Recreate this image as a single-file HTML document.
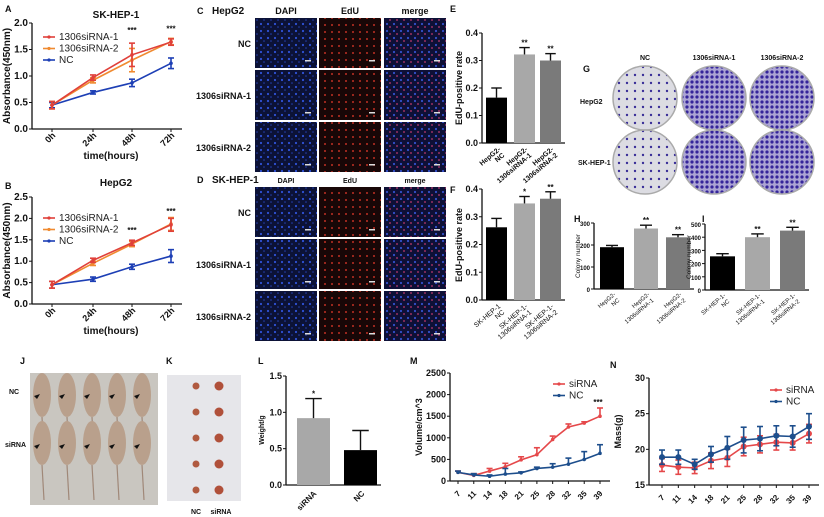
<!DOCTYPE html>
<html><head><meta charset="utf-8"><style>
body{margin:0;background:#fff}
svg{display:block;font-family:"Liberation Sans",Arial,sans-serif}
</style></head><body>
<svg id="s" width="824" height="517" viewBox="0 0 824 517">
<defs>
<pattern id="blueDots" width="7" height="7" patternUnits="userSpaceOnUse"><rect width="7" height="7" fill="#0c1236"/><circle cx="2" cy="3" r="1.1" fill="#2f52d8"/><circle cx="5" cy="6" r="0.8" fill="#2440b0"/></pattern>
<pattern id="redDots" width="7" height="7" patternUnits="userSpaceOnUse"><rect width="7" height="7" fill="#180707"/><circle cx="3" cy="4" r="1" fill="#c03024"/></pattern>
<pattern id="mergeDots" width="7" height="7" patternUnits="userSpaceOnUse"><rect width="7" height="7" fill="#0e1036"/><circle cx="2" cy="3" r="1.1" fill="#3450cc"/><circle cx="5" cy="6" r="0.9" fill="#c03870"/></pattern>
<pattern id="plateSparse" width="8" height="8" patternUnits="userSpaceOnUse"><rect width="8" height="8" fill="#dcdce2"/><circle cx="3" cy="3" r="1.2" fill="#3a2e98"/></pattern>
<pattern id="plateDense" width="5" height="5" patternUnits="userSpaceOnUse"><rect width="5" height="5" fill="#aca4d4"/><circle cx="2" cy="2" r="1.6" fill="#35259a"/></pattern>
</defs>
</svg>
<script>
const NS="http://www.w3.org/2000/svg", S=document.getElementById('s');
function el(t,a,p){const e=document.createElementNS(NS,t);for(const k in a)e.setAttribute(k,a[k]);(p||S).appendChild(e);return e;}
function tx(x,y,s,o){o=o||{};const e=el('text',{x:x,y:y,'font-size':o.fs||9,'text-anchor':o.a||'start','font-weight':o.w||'bold',fill:o.c||'#111'});if(o.r)e.setAttribute('transform','rotate('+o.r+' '+x+' '+y+')');e.textContent=s;return e;}

// ---- data ----
const timeCats=['0h','24h','48h','72h'];
const aSi1=[0.45,0.97,1.40,1.64], aSi2=[0.45,0.92,1.30,1.65], aNC=[0.45,0.69,0.87,1.24];
const aSi1Err=[0.07,0.05,0.22,0.06], aNCErr=[0.05,0.03,0.07,0.1];
const bSi1=[0.45,1.02,1.43,1.85], bSi2=[0.45,0.95,1.40,1.87], bNC=[0.45,0.58,0.87,1.12];
const bErr=[0.08,0.05,0.06,0.15];
const eVals=[0.165,0.322,0.300], eErr=[0.035,0.025,0.025];
const fVals=[0.262,0.348,0.365], fErr=[0.032,0.025,0.025];
const hVals=[190,275,235], hErr=[8,15,12];
const iVals=[255,400,450], iErr=[20,25,25];
const lCats=['siRNA','NC'], lVals=[0.92,0.48], lErr=[0.27,0.27];
const days=['7','11','14','18','21','25','28','32','35','39'];
const mSi=[200,130,230,330,490,610,960,1250,1340,1500], mSiErr=[30,40,60,80,70,160,80,70,30,190];
const mNC=[200,140,110,160,190,290,320,390,500,640], mNCErr=[30,30,30,130,20,30,80,140,180,200];
const nSi=[17.8,17.5,17.4,18.4,18.8,20.4,20.7,21.0,20.9,22.2], nSiErr=[0.9,1,0.8,1.1,1.2,1.3,1.2,1.1,1.0,1.3];
const nNC=[18.9,18.9,17.9,19.3,20.2,21.3,21.5,21.9,21.8,23.2], nNCErr=[1,1,0.7,1.1,1.6,1.8,1.7,1.4,1.5,1.8];

function yAxis(x,y0,y1,vmin,vmax,ticks,fs,fmt){
  const g=el('g',{});
  
  el('line',{x1:x,y1:y0,x2:x,y2:y1,stroke:'#111','stroke-width':1.3},g);
  ticks.forEach(t=>{const y=y0-(t-vmin)/(vmax-vmin)*(y0-y1);el('line',{x1:x-3,y1:y,x2:x,y2:y,stroke:'#111'},g);
    const e=tx(x-4,y+3,fmt?fmt(t):String(t),{fs:fs||9,a:'end'});g.appendChild(e);});
  return v=>y0-(v-vmin)/(vmax-vmin)*(y0-y1);
}
function errBar(x,y,yt,c,w){el('line',{x1:x,y1:y,x2:x,y2:yt,stroke:c,'stroke-width':1.4});el('line',{x1:x-w,y1:yt,x2:x+w,y2:yt,stroke:c,'stroke-width':1.4});}
function series(xs,vals,errs,sy,c,name,mk,both){
  const g=el('g',{});
  el('polyline',{points:vals.map((v,i)=>xs[i]+','+sy(v)).join(' '),fill:'none',stroke:c,'stroke-width':1.6},g);
  vals.forEach((v,i)=>{
    if(errs){const e=errs[i];el('line',{x1:xs[i],y1:sy(both?v-e:v),x2:xs[i],y2:sy(v+e),stroke:c,'stroke-width':1.6},g);el('line',{x1:xs[i]-3,y1:sy(v+e),x2:xs[i]+3,y2:sy(v+e),stroke:c,'stroke-width':1.6},g);if(both)el('line',{x1:xs[i]-3,y1:sy(v-e),x2:xs[i]+3,y2:sy(v-e),stroke:c,'stroke-width':1.6},g);}
    el(mk=='sq'?'rect':'circle',mk=='sq'?{x:xs[i]-3,y:sy(v)-3,width:6,height:6,fill:c}:{cx:xs[i],cy:sy(v),r:mk||1.8,fill:c},g);
  });
}
function legend(x,y,items,fs){items.forEach((it,i)=>{const g=el('g',{});
  el('line',{x1:x,y1:y+i*fs*1.15-3,x2:x+12,y2:y+i*fs*1.15-3,stroke:it[1],'stroke-width':1.6},g);el('circle',{cx:x+6,cy:y+i*fs*1.15-3,r:1.6,fill:it[1]},g);
  g.appendChild(tx(x+16,y+i*fs*1.15,it[0],{fs:fs,w:'normal',c:'#222'}));});}

// ---- A & B line charts ----
function lineChart(lbl,title,y0,y1,vmax,ticks,s1,s2,nc,e1,e2,stars){
  const xs=[52,93,132,171];
  tx(5,lbl=='A'?12:189,lbl,{fs:9});
  tx(116,lbl=='A'?18:186,title,{fs:10,a:'middle'});
  const sy=yAxis(32,y0,y1,0,vmax,ticks,10,t=>t.toFixed(1));
  el('line',{x1:32,y1:y0,x2:182,y2:y0,stroke:'#111','stroke-width':1.3});
  xs.forEach((x,i)=>{el('line',{x1:x,y1:y0,x2:x,y2:y0+3,stroke:'#111'});tx(x+4,y0+7,timeCats[i],{fs:9,a:'end',r:-45});});
  tx(111,y0+30,'time(hours)',{fs:10,a:'middle'});
  tx(10,(y0+y1)/2,'Absorbance(450nm)',{fs:10,a:'middle',r:-90});
  series(xs,nc,e2.nc,sy,'#1d3fb5','series-nc',1.8,true);
  series(xs,s2,e2.s,sy,'#f08a30','series-1306sirna-2',1.8,true);
  series(xs,s1,e1,sy,'#e0403a','series-1306sirna-1',1.8,true);
  stars.forEach(i=>tx(xs[i],sy(Math.max(s1[i],s2[i]))-(i==2&&lbl=='A'?22:10),'***',{fs:8,a:'middle'}));
  legend(43,y1+(lbl=='A'?17:24),[['1306siRNA-1','#e0403a'],['1306siRNA-2','#f08a30'],['NC','#1d3fb5']],10);
}
lineChart('A','SK-HEP-1',129,23,2.0,[0,0.5,1,1.5,2],aSi1,aSi2,aNC,aSi1Err,{nc:aNCErr,s:aSi1Err},[2,3]);
lineChart('B','HepG2',304,197,2.5,[0,0.5,1,1.5,2,2.5],bSi1,bSi2,bNC,bErr,{nc:bErr,s:bErr},[2,3]);

// ---- C & D images ----
function imgPanel(lbl,cell,hy,rows,fsH){
  tx(197,hy,lbl,{fs:9});tx(212,hy,cell,{fs:10});
  const cols=[255,319,384],fills=['url(#blueDots)','url(#redDots)','url(#mergeDots)'],hd=['DAPI','EdU','merge'];
  cols.forEach((x,i)=>tx(x+31,hy,hd[i],{fs:fsH,a:'middle'}));
  ['NC','1306siRNA-1','1306siRNA-2'].forEach((r,j)=>{tx(251,rows[j]+29,r,{fs:9,a:'end'});
    cols.forEach((x,i)=>{const e=el('rect',{x:x,y:rows[j],width:62,height:50,fill:fills[i]});
      el('rect',{x:x+50,y:rows[j]+42,width:6,height:1.5,fill:'#ddd'});});});
}
imgPanel('C','HepG2',14,[18,70,122],9);
imgPanel('D','SK-HEP-1',183,[187,239,291],7);

// ---- bar charts ----
function barChart(ax,y0,y1,vmax,ticks,vals,errs,xs,w,colors,stars,fs,fmt){
  const sy=yAxis(ax,y0,y1,0,vmax,ticks,fs,fmt);
  el('line',{x1:ax,y1:y0,x2:xs[xs.length-1]+w+4,y2:y0,stroke:'#111','stroke-width':1.3});
  vals.forEach((v,i)=>{const b=el('rect',{x:xs[i],y:sy(v),width:w,height:y0-sy(v),fill:colors[i]});
    
    errBar(xs[i]+w/2,sy(v),sy(v+errs[i]),'#111',w/4);
    if(stars[i])tx(xs[i]+w/2,sy(v+errs[i])-2,stars[i],{fs:8,a:'middle'});});
  return sy;
}
const cols3=['#000','#a8a8a8','#7a7a7a'];
tx(450,12,'E',{fs:9});
barChart(482,143,33,0.4,[0,0.1,0.2,0.3,0.4],eVals,eErr,[486,514,540],21,cols3,['','**','**'],9,t=>t.toFixed(1));
tx(462,88,'EdU-positive rate',{fs:9,a:'middle',r:-90});
[['HepG2-','NC'],['HepG2-','1306siRNA-1'],['HepG2-','1306siRNA-2']].forEach((l,i)=>{const x=[497,524,550][i];tx(x+4,150,l[0],{fs:7,a:'end',r:-40});tx(x+8,156,l[1],{fs:7,a:'end',r:-40});});
tx(450,193,'F',{fs:9});
barChart(482,300,189,0.4,[0,0.1,0.2,0.3,0.4],fVals,fErr,[486,514,540],21,cols3,['','*','**'],9,t=>t.toFixed(1));
tx(462,245,'EdU-positive rate',{fs:9,a:'middle',r:-90});
[['SK-HEP-1','NC'],['SK-HEP-1-','1306siRNA-1'],['SK-HEP-1-','1306siRNA-2']].forEach((l,i)=>{const x=[497,524,550][i];tx(x+4,307,l[0],{fs:7,a:'end',r:-40,w:'normal'});tx(x+8,313,l[1],{fs:7,a:'end',r:-40,w:'normal'});});

// ---- G plates ----
tx(583,72,'G',{fs:9});
[['NC',645],['1306siRNA-1',714],['1306siRNA-2',782]].forEach(h=>tx(h[1],60,h[0],{fs:7,a:'middle'}));
tx(580,104,'HepG2',{fs:7});tx(578,165,'SK-HEP-1',{fs:7});
[[645,98,'url(#plateSparse)'],[714,98,'url(#plateDense)'],[782,98,'url(#plateDense)'],[645,162,'url(#plateSparse)'],[714,162,'url(#plateDense)'],[782,162,'url(#plateDense)']].forEach(p=>{
  const c=el('circle',{cx:p[0],cy:p[1],r:32,fill:p[2],stroke:'#aaa','stroke-width':1.5});});

// ---- H, I ----
tx(574,222,'H',{fs:9});
barChart(594,289,223,300,[0,100,200,300],hVals,hErr,[600,634,666],24,cols3,['','**','**'],6);
tx(580,256,'Colony number',{fs:6.5,a:'middle',r:-90,w:'normal'});
[['HepG2-','NC'],['HepG2-','1306siRNA-1'],['HepG2-','1306siRNA-2']].forEach((l,i)=>{const x=[612,646,678][i];tx(x+4,295,l[0],{fs:6,a:'end',r:-40,w:'normal'});tx(x+8,301,l[1],{fs:6,a:'end',r:-40,w:'normal'});});
tx(702,222,'I',{fs:9});
barChart(705,290,224,500,[0,100,200,300,400,500],iVals,iErr,[710,745,780],25,cols3,['','**','**'],6);
tx(691,257,'Colony number',{fs:6.5,a:'middle',r:-90,w:'normal'});
[['SK-HEP-1-','NC'],['SK-HEP-1-','1306siRNA-1'],['SK-HEP-1-','1306siRNA-2']].forEach((l,i)=>{const x=[722,757,792][i];tx(x+4,296,l[0],{fs:6,a:'end',r:-40,w:'normal'});tx(x+8,302,l[1],{fs:6,a:'end',r:-40,w:'normal'});});

// ---- J, K photos ----
tx(20,364,'J',{fs:9});tx(166,364,'K',{fs:9});
let j=el('rect',{x:30,y:373,width:128,height:132,fill:'#c9c6c0'});
for(let r=0;r<2;r++)for(let c=0;c<5;c++){el('ellipse',{cx:42+c*25,cy:395+r*48,rx:9,ry:22,fill:'#b9a08c'});el('line',{x1:42+c*25,y1:417+r*48,x2:44+c*25,y2:r?500:455,stroke:'#a08878','stroke-width':1.2});el('path',{d:`M${34+c*25} ${396+r*50} l6 -2 l-3 5z`,fill:'#111'});}
tx(9,394,'NC',{fs:7});tx(5,447,'siRNA',{fs:7});
let k=el('rect',{x:167,y:375,width:74,height:126,fill:'#e6e6ea'});
for(let r=0;r<5;r++){el('circle',{cx:196,cy:386+r*26,r:3.5,fill:'#b05a40'});el('circle',{cx:219,cy:386+r*26,r:4.5,fill:'#b0503a'});}
tx(196,514,'NC',{fs:7,a:'middle'});tx(221,514,'siRNA',{fs:7,a:'middle'});

// ---- L ----
tx(258,364,'L',{fs:9});
barChart(286,485,376,1.5,[0,0.5,1,1.5],lVals,lErr,[297,344],33,['#a8a8a8','#000'],['*',''],9,t=>t.toFixed(1));
tx(264,430,'Weight/g',{fs:7,a:'middle',r:-90});
lCats.forEach((c,i)=>tx([313,361][i]+4,494,c,{fs:8,a:'end',r:-45}));

// ---- M, N ----
function dayChart(ax,y0,y1,vmin,vmax,ticks,x0,x1,si,siE,nc,ncE,ylab,fs,mk,both){
  const sy=yAxis(ax,y0,y1,vmin,vmax,ticks,fs);
  el('line',{x1:ax,y1:y0,x2:x1+10,y2:y0,stroke:'#111','stroke-width':1.3});
  const xs=days.map((d,i)=>x0+i*(x1-x0)/(days.length-1));
  xs.forEach((x,i)=>{el('line',{x1:x,y1:y0,x2:x,y2:y0+3,stroke:'#111'});tx(x+3,y0+13,days[i],{fs:8,a:'end',r:-45});});
  tx(ax-28,(y0+y1)/2,ylab,{fs:9,a:'middle',r:-90});
  series(xs,si,siE,sy,'#e5484a','series-sirna',mk,both);
  series(xs,nc,ncE,sy,'#1d4e8c','series-nc',mk,both);
  return [sy,xs];
}
tx(410,364,'M',{fs:9});
const [msy,mxs]=dayChart(450,481,373,0,2500,[0,500,1000,1500,2000,2500],458,600,mSi,mSiErr,mNC,mNCErr,'Volume/cm^3',9,1.8,false);
tx(mxs[9]-2,msy(mSi[9]+mSiErr[9])-3,'***',{fs:8,a:'middle'});
legend(553,387,[['siRNA','#e5484a'],['NC','#1d4e8c']],10);
tx(610,368,'N',{fs:9});
dayChart(649,485,378,15,30,[15,20,25,30],662,809,nSi,nSiErr,nNC,nNCErr,'Mass(g)',9,3,true);
legend(770,393,[['siRNA','#e5484a'],['NC','#1d4e8c']],10);
</script>
</body></html>
